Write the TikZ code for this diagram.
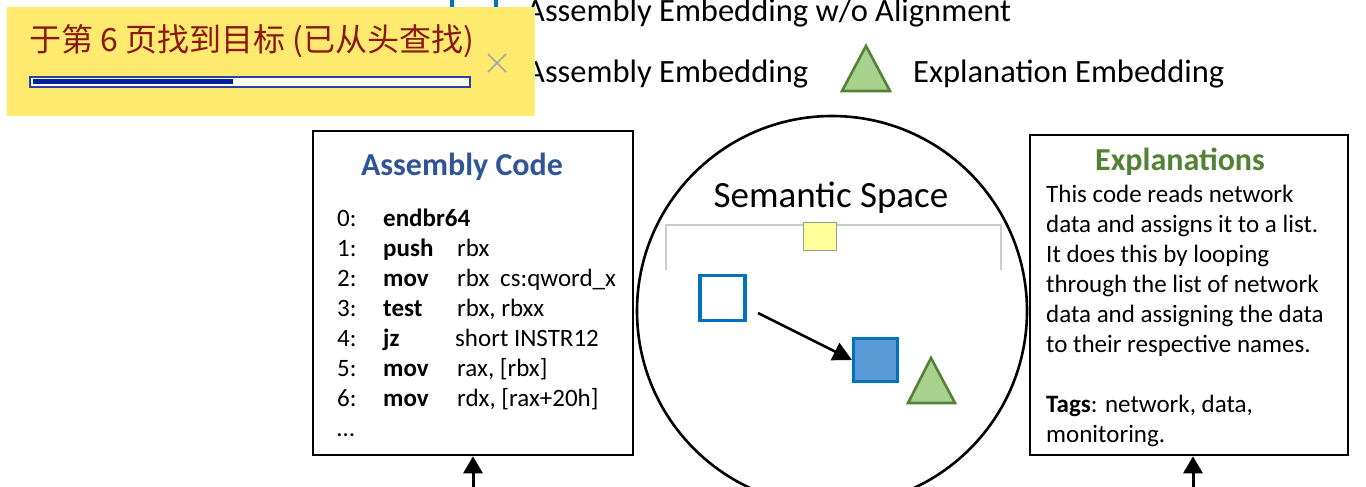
\documentclass[tikz,border=0pt]{standalone}
\usepackage{fontspec}
\setmainfont{Carlito}
\newfontfamily\cjk{Noto Sans CJK SC}
\usetikzlibrary{arrows.meta}
\definecolor{popyellow}{RGB}{255,234,112}
\definecolor{popred}{RGB}{140,24,12}
\definecolor{barblue}{RGB}{0,32,160}
\definecolor{barframe}{RGB}{40,64,170}
\definecolor{titleblue}{RGB}{47,85,151}
\definecolor{titlegreen}{RGB}{84,130,53}
\definecolor{sqborder}{RGB}{0,112,192}
\definecolor{sqfill}{RGB}{91,155,213}
\definecolor{trifill}{RGB}{169,209,142}
\definecolor{triborder}{RGB}{84,130,53}
\definecolor{notefill}{RGB}{255,255,153}
\begin{document}
\begin{tikzpicture}[x=1pt,y=-1pt,
  legendtext/.style={anchor=base west, inner sep=0pt, font=\fontsize{32.5}{39}\selectfont},
  codetext/.style={anchor=base west, inner sep=0pt, font=\fontsize{25}{30}\selectfont},
  codebold/.style={anchor=base west, inner sep=0pt, font=\fontsize{25}{30}\selectfont\bfseries},
  frame/.style={draw=black, line width=2.6pt, fill=white, inner sep=0pt},
  hollowsq/.style={draw=sqborder, line width=3.5pt, fill=white, inner sep=0pt},
  filledsq/.style={draw=sqborder, line width=3pt, fill=sqfill, inner sep=0pt},
  tri/.style={draw=triborder, fill=trifill, line width=2.6pt, line join=miter},
  upArrow/.style={line width=3pt, -{Triangle[length=17pt,width=19pt]}},
  titlefont/.style={anchor=base, inner sep=0pt, font=\fontsize{32}{38}\selectfont\bfseries},
]
\useasboundingbox (0,0) rectangle (1366,487);
\clip (0,0) rectangle (1366,487);
\fill[white] (0,0) rectangle (1366,487);

% legend
\node[hollowsq, minimum width=44pt, minimum height=44pt] (legsq) at (474,10) {};
\node[legendtext] (leg1) at (526,22) {Assembly Embedding w/o Alignment};
\node[legendtext] (leg2) at (526,83) {Assembly Embedding};
\draw[tri] (866,46) -- (890,91) -- (842,91) -- cycle;
\node[legendtext] (leg3) at (913,83) {Explanation Embedding};

% search popup
\node[fill=popyellow, minimum width=528pt, minimum height=109pt, inner sep=0pt] (popup) at (271,61.5) {};
\node[anchor=west, inner sep=0pt, text=popred, font=\cjk\fontsize{32}{37}\selectfont] (findmsg) at (29,41) {于第 6 页找到目标 (已从头查找)};
\node[draw=barframe, line width=1.2pt, fill=white!85!popyellow, minimum width=440pt, minimum height=10pt, inner sep=0pt] (bar) at (250,82) {};
\fill[barblue] (32.5,79.5) rectangle (233,84.5);
\draw[gray!70, line width=1.6pt] (488,54) -- (506,72) (488,72) -- (506,54);

% boxes
\node[frame, minimum width=320pt, minimum height=324pt] (asm) at (473,293) {};
\node[frame, minimum width=318pt, minimum height=320pt] (expl) at (1189,295) {};
\node[draw, line width=2.6pt, circle, minimum size=390pt, inner sep=0pt] (space) at (832,311) {};

\coordinate (asmin) at (473,492);
\draw[upArrow] (asmin) -- (asm.south);
\coordinate (explin) at (1193,492);
\draw[upArrow] (explin) -- (explin |- expl.south);

% titles
\node[titlefont, text=titleblue] (asmtitle) at (462,175) {Assembly Code};
\node[titlefont, text=titlegreen] (expltitle) at (1180,170) {Explanations};
\node[anchor=base, inner sep=0pt, font=\fontsize{37}{44}\selectfont] (spacetitle) at (831,207) {Semantic Space};

% semantic space content
\draw[gray!40, line width=1.3pt] (666,270) -- (666,225) -- (1001,225) -- (1001,270);
\node[draw=gray!80, fill=notefill, line width=1pt, minimum width=33pt, minimum height=28pt, inner sep=0pt] (note) at (819.5,236) {};
\node[hollowsq, minimum width=45pt, minimum height=45pt] (asmraw) at (722.5,298) {};
\node[filledsq, minimum width=44pt, minimum height=43pt] (asmaligned) at (875.5,360) {};
\coordinate (astart) at (758,313);
\draw[line width=2.6pt, -{Triangle[length=19pt,width=19pt]}] (astart) -- (asmaligned.west);
\draw[tri] (931,358) -- (955,403) -- (908,403) -- cycle;

% code
\node[codetext] (n0) at (337,226) {0:};
\node[codetext] (n1) at (337,256) {1:};
\node[codetext] (n2) at (337,286) {2:};
\node[codetext] (n3) at (337,316) {3:};
\node[codetext] (n4) at (337,346) {4:};
\node[codetext] (n5) at (337,376) {5:};
\node[codetext] (n6) at (337,406) {6:};
\node[codetext] (n7) at (337,436) {…};
\node[codebold] (m0) at (383,226) {endbr64};
\node[codebold] (m1) at (383,256) {push};
\node[codebold] (m2) at (383,286) {mov};
\node[codebold] (m3) at (383,316) {test};
\node[codebold] (m4) at (383,346) {jz};
\node[codebold] (m5) at (383,376) {mov};
\node[codebold] (m6) at (383,406) {mov};
\node[codetext] (o1) at (457,256) {rbx};
\node[codetext] (o2) at (457,286) {rbx};
\node[codetext] (o2b) at (500,286) {cs:qword\_x};
\node[codetext] (o3) at (457,316) {rbx, rbxx};
\node[codetext] (o4) at (455,346) {short INSTR12};
\node[codetext] (o5) at (457,376) {rax, [rbx]};
\node[codetext] (o6) at (457,406) {rdx, [rax+20h]};

% explanation text
\node[codetext] (e0) at (1046,202) {This code reads network};
\node[codetext] (e1) at (1046,232) {data and assigns it to a list.};
\node[codetext] (e2) at (1046,262) {It does this by looping};
\node[codetext] (e3) at (1046,292) {through the list of network};
\node[codetext] (e4) at (1046,322) {data and assigning the data};
\node[codetext] (e5) at (1046,352) {to their respective names.};
\node[codetext] (e6) at (1046,412) {\textbf{Tags}: network, data,};
\node[codetext] (e7) at (1046,442) {monitoring.};
\end{tikzpicture}
\end{document}
